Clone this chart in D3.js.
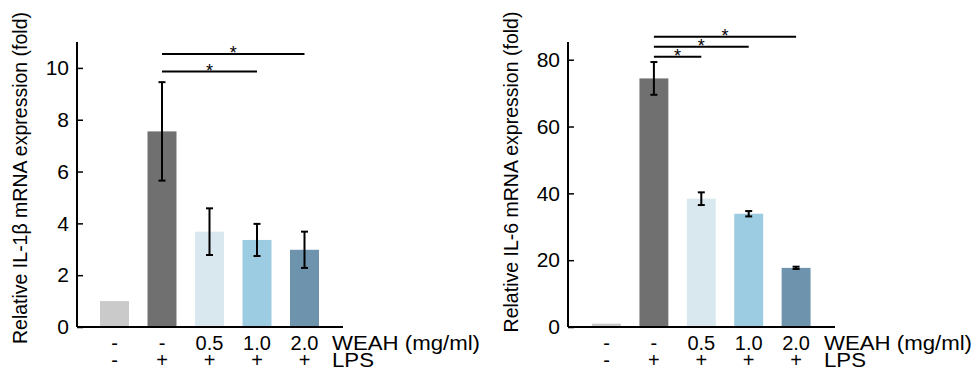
<!DOCTYPE html>
<html>
<head>
<meta charset="utf-8">
<script src="https://cdn.jsdelivr.net/npm/d3@7"></script>
<style>
  body { margin: 0; background: #fff; }
  svg { display: block; font-family: "Liberation Sans", Arial, sans-serif; }
</style>
</head>
<body>
<svg id="chart" width="976" height="369"></svg>
<script>
// groups along the x axis
const weahLabels = ['-', '-', '0.5', '1.0', '2.0'];
const lpsLabels = ['-', '+', '+', '+', '+'];
const barColors = ['#cacaca', '#707070', '#d9e8ef', '#9bcce1', '#6e93ad'];

// IL-1β panel
const il1bValues = [1.0, 7.55, 3.68, 3.36, 2.98];
const il1bErr = [0, 1.9, 0.9, 0.62, 0.7];
const il1bTicks = [0, 2, 4, 6, 8, 10];
const il1bSig = [[1, 4], [1, 3]];   // top line first

// IL-6 panel
const il6Values = [1.0, 74.4, 38.4, 33.9, 17.7];
const il6Err = [0, 4.9, 1.9, 0.8, 0.35];
const il6Ticks = [0, 20, 40, 60, 80];
const il6Sig = [[1, 4], [1, 3], [1, 2]];

const svg = d3.select('#chart');

function drawPanel(p) {
  const g = svg.append('g');
  const idx = d3.range(p.values.length);

  const x = d3.scaleBand()
    .domain(idx)
    .range([p.x0, p.x1])
    .paddingInner(0.39)
    .paddingOuter(0.195);

  const y = d3.scaleLinear()
    .domain([0, p.ymax])
    .range([327, 42]);

  // bars
  g.selectAll('rect.bar')
    .data(idx)
    .join('rect')
    .attr('class', 'bar')
    .attr('x', i => x(i))
    .attr('y', i => y(p.values[i]))
    .attr('width', x.bandwidth())
    .attr('height', i => y(0) - y(p.values[i]))
    .attr('fill', i => barColors[i]);

  // error bars
  const eb = g.append('g')
    .attr('stroke', '#000')
    .attr('stroke-width', 2)
    .selectAll('g')
    .data(idx.filter(i => p.err[i] > 0))
    .join('g');
  const cx = i => x(i) + x.bandwidth() / 2;
  eb.append('line')
    .attr('x1', cx).attr('x2', cx)
    .attr('y1', i => y(p.values[i] + p.err[i]))
    .attr('y2', i => y(p.values[i] - p.err[i]));
  [1, -1].forEach(s => {
    eb.append('line')
      .attr('x1', i => cx(i) - 3.5).attr('x2', i => cx(i) + 3.5)
      .attr('y1', i => y(p.values[i] + s * p.err[i]))
      .attr('y2', i => y(p.values[i] + s * p.err[i]));
  });

  // y axis, ticks pointing inward
  const yAxis = g.append('g')
    .attr('transform', `translate(${p.axisX},0)`)
    .call(d3.axisLeft(y).tickValues(p.ticks).tickSize(-6).tickPadding(8));
  yAxis.select('.domain').attr('d', `M0,${y(0)}V42`).attr('stroke-width', 2);
  yAxis.selectAll('.tick line').attr('stroke-width', 1.5);
  yAxis.selectAll('.tick text')
    .attr('font-size', 21)
    .attr('font-family', '"Liberation Sans", Arial, sans-serif')
    .attr('fill', '#000');

  // x axis baseline
  g.append('line')
    .attr('x1', p.axisX).attr('x2', p.axisEnd)
    .attr('y1', y(0)).attr('y2', y(0))
    .attr('stroke', '#000')
    .attr('stroke-width', 2);

  // condition rows
  g.selectAll('text.weah')
    .data(idx)
    .join('text')
    .attr('class', 'weah')
    .attr('x', cx).attr('y', 350)
    .attr('text-anchor', 'middle')
    .attr('font-size', 20)
    .text(i => weahLabels[i]);
  g.selectAll('text.lps')
    .data(idx)
    .join('text')
    .attr('class', 'lps')
    .attr('x', cx).attr('y', 367)
    .attr('text-anchor', 'middle')
    .attr('font-size', 20)
    .text(i => lpsLabels[i]);
  g.append('text')
    .attr('x', p.axisEnd - 11).attr('y', 350)
    .attr('font-size', 20)
    .attr('textLength', 148)
    .attr('lengthAdjust', 'spacingAndGlyphs')
    .text('WEAH (mg/ml)');
  g.append('text')
    .attr('x', p.axisEnd - 11).attr('y', 367)
    .attr('font-size', 20)
    .attr('textLength', 42)
    .attr('lengthAdjust', 'spacingAndGlyphs')
    .text('LPS');

  // y title
  g.append('text')
    .attr('transform', `translate(${p.titleX},${p.titleY}) rotate(-90)`)
    .attr('text-anchor', 'middle')
    .attr('font-size', 19.5)
    .text(p.title);

  // significance brackets
  const sig = g.selectAll('g.sig')
    .data(p.sig)
    .join('g')
    .attr('class', 'sig');
  sig.append('line')
    .attr('x1', d => cx(d[0])).attr('x2', d => cx(d[1]))
    .attr('y1', (d, k) => p.sigTop + k * p.sigGap)
    .attr('y2', (d, k) => p.sigTop + k * p.sigGap)
    .attr('stroke', '#000')
    .attr('stroke-width', 2);
  sig.append('text')
    .attr('x', d => (cx(d[0]) + cx(d[1])) / 2)
    .attr('y', (d, k) => p.sigTop + k * p.sigGap + 5)
    .attr('text-anchor', 'middle')
    .attr('font-size', 18)
    .text('*');
}

drawPanel({
  values: il1bValues, err: il1bErr, ticks: il1bTicks, sig: il1bSig,
  ymax: 11, x0: 90.75, x1: 328.25, axisX: 77, axisEnd: 343,
  title: 'Relative IL-1\u03b2 mRNA expression (fold)', titleX: 27, titleY: 178,
  sigTop: 54, sigGap: 17.5
});

drawPanel({
  values: il6Values, err: il6Err, ticks: il6Ticks, sig: il6Sig,
  ymax: 85.3, x0: 582.8, x1: 819.8, axisX: 568, axisEnd: 835,
  title: 'Relative IL-6 mRNA expression (fold)', titleX: 518, titleY: 172,
  sigTop: 36.7, sigGap: 10
});
</script>
</body>
</html>
